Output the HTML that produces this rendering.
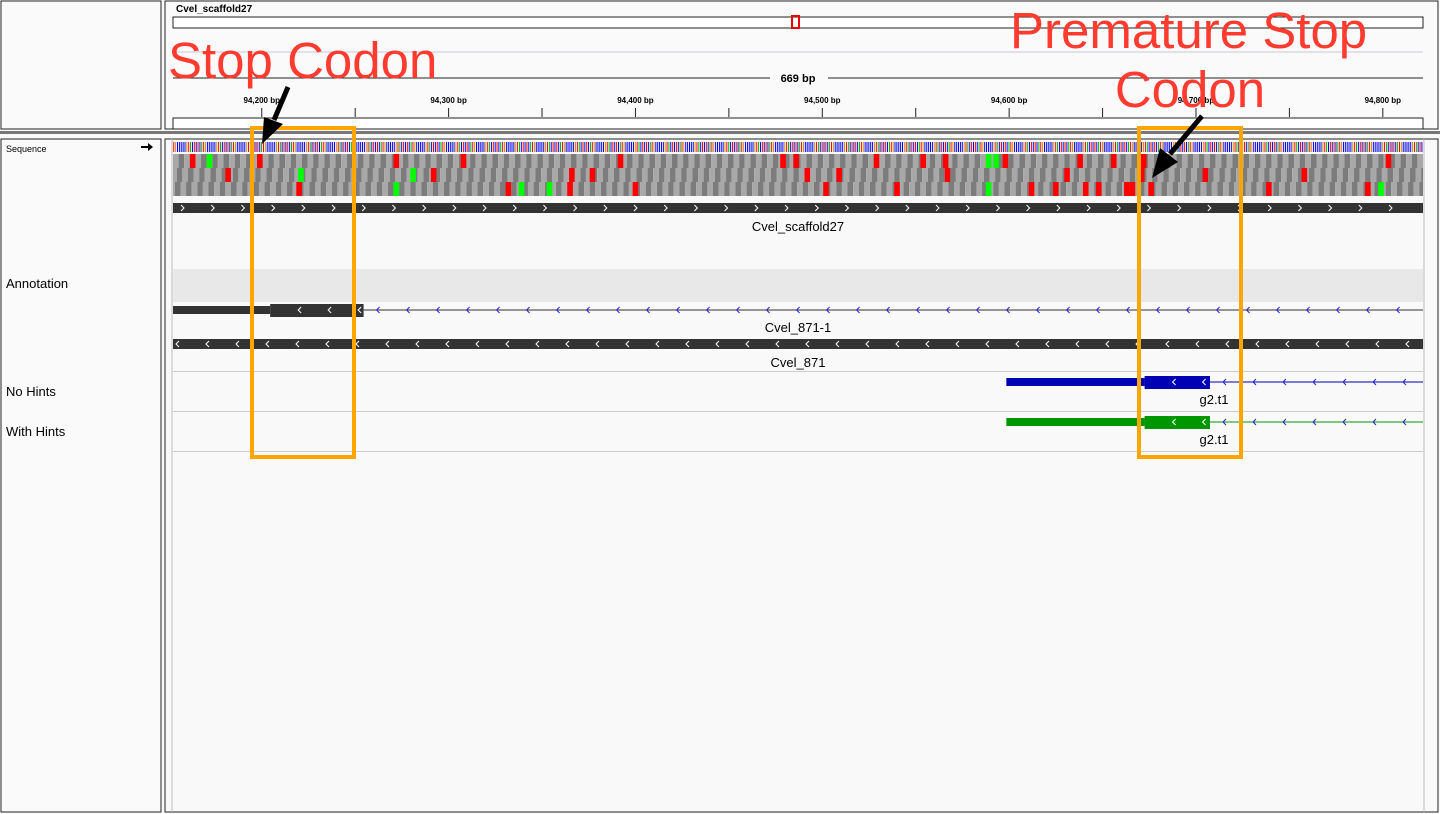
<!DOCTYPE html>
<html><head><meta charset="utf-8"><style>
html,body{margin:0;padding:0;background:#fff;width:1440px;height:814px;overflow:hidden}
svg{display:block;font-family:"Liberation Sans",sans-serif}
</style></head><body>
<svg id="c" width="1440" height="814" xmlns="http://www.w3.org/2000/svg">
<defs><clipPath id="dp"><rect x="173" y="139" width="1250" height="673"/></clipPath></defs>
<rect x="0" y="0" width="1440" height="814" fill="#f9f9f9"/>
<rect x="1" y="1" width="160" height="128" fill="#fafafa" stroke="#222"/>
<rect x="165" y="1" width="1273" height="128" fill="#fafafa" stroke="#222"/>
<rect x="0" y="131" width="1440" height="3" fill="#777"/>
<rect x="1" y="139" width="160" height="673" fill="#fafafa" stroke="#222"/>
<rect x="165" y="139" width="1273" height="673" fill="#f9f9f9" stroke="#222"/>
<line x1="172" y1="139" x2="172" y2="812" stroke="#bbb"/>
<line x1="1424" y1="139" x2="1424" y2="812" stroke="#bbb"/>
<text x="176" y="12" font-size="10" font-weight="bold">Cvel_scaffold27</text>
<rect x="173" y="17" width="1250" height="11" fill="#fff" stroke="#222"/>
<rect x="792" y="16" width="7" height="12" fill="none" stroke="#e00" stroke-width="2"/>
<line x1="173" y1="52" x2="1423" y2="52" stroke="#c8c8d8"/>
<line x1="173" y1="78" x2="770" y2="78" stroke="#222"/>
<line x1="828" y1="78" x2="1423" y2="78" stroke="#222"/>
<text x="798" y="82" font-size="11" font-weight="bold" text-anchor="middle">669 bp</text>
<g id="ruler"></g>
<rect x="173" y="118" width="1250" height="11" fill="#fff" stroke="#222"/>
<text x="6" y="152" font-size="9">Sequence</text>
<path d="M141 146h7v-3l5 4-5 4v-3h-7z" fill="#000"/>
<text x="6" y="288" font-size="13">Annotation</text>
<text x="6" y="396" font-size="13">No Hints</text>
<text x="6" y="436" font-size="13">With Hints</text>
<g id="seq" clip-path="url(#dp)"></g>
<g id="feat" clip-path="url(#dp)"></g>
<rect x="252" y="128" width="102" height="329" fill="none" stroke="#ffa500" stroke-width="4"/>
<rect x="1139" y="128" width="102" height="329" fill="none" stroke="#ffa500" stroke-width="4"/>
<text x="168" y="78" font-size="51" fill="#ff3b30">Stop Codon</text>
<text x="1010" y="48" font-size="51" fill="#ff3b30">Premature Stop</text>
<text x="1190" y="107" font-size="51" fill="#ff3b30" text-anchor="middle">Codon</text>
<line x1="288" y1="87" x2="274" y2="120" stroke="#000" stroke-width="5"/>
<polygon points="262,144 264,117 283,124" fill="#000"/>
<line x1="1202" y1="116" x2="1170" y2="154" stroke="#000" stroke-width="5"/>
<polygon points="1152,178 1160,148 1178,162" fill="#000"/>
</svg>
<script>
const startBp = 94152.5, endBp = 94821.5;
const tickLabels = ["94,200 bp","94,300 bp","94,400 bp","94,500 bp","94,600 bp","94,700 bp","94,800 bp"];
const tickValues = [94200,94300,94400,94500,94600,94700,94800];
const frame1Stops = [9,45,118,154,238,325,332,375,400,412,444,484,502,518,649];
const frame1Starts = [18,435,439];
const frame2Stops = [28,138,212,223,338,355,413,477,517,551,604];
const frame2Starts = [67,127];
const frame3Stops = [66,178,211,246,348,386,458,471,487,494,509,512,522,585,638];
const frame3Starts = [118,185,200,435,645];
const geneStart = 0, geneEnd = 669;
const cvel871_1 = {start:0, cdsStart:52, cdsEnd:102, end:669};
const g2NoHints = {start:446, cdsStart:520, cdsEnd:555, end:669};
const g2WithHints = {start:446, cdsStart:520, cdsEnd:555, end:669};
const X0=173, W=1250;
const x = off => X0 + off * W/(endBp-startBp);
const xg = bp => x(bp-startBp);
const NS="http://www.w3.org/2000/svg";
function mk(p,tag,a){const e=document.createElementNS(NS,tag);for(const k in a)e.setAttribute(k,a[k]);p.appendChild(e);return e;}
const ruler=document.getElementById('ruler');
tickValues.forEach((v,i)=>{const xx=xg(v);
 const t=mk(ruler,'text',{x:xx,y:103,'font-size':8,'font-weight':'bold','text-anchor':'middle'});t.textContent=tickLabels[i];
 
 
 mk(ruler,'line',{x1:xx,y1:108,x2:xx,y2:117,stroke:'#222'});
 const h=xg(v+50); if(h<1423) mk(ruler,'line',{x1:h,y1:108,x2:h,y2:117,stroke:'#222'});
});
const seq=document.getElementById('seq');
const cols=['#e00','#0a0','#00d','#d80'];
const bw=W/669;
for(let i=0;i<669;i++){const c=cols[(i*7+((i*i)>>3))%4];mk(seq,'rect',{x:x(i)+0.3,y:142,width:Math.max(bw-0.9,0.8),height:10,fill:c});}
const frames=[[frame1Stops,frame1Starts,154],[frame2Stops,frame2Starts,168],[frame3Stops,frame3Starts,182]];
frames.forEach(([st,sa,y],f)=>{
 for(let i=-f;i<669;i+=3){const a=Math.max(i,0);const b=Math.min(i+3,669);mk(seq,'rect',{x:x(a),y:y,width:x(b)-x(a),height:14,fill:((i+f)/3)%2?'#7c7c7c':'#a8a8a8'});}
 st.forEach(o=>{const r=mk(seq,'rect',{x:x(o),y:y,width:3*bw,height:14,fill:'#f00'});});
 sa.forEach(o=>{const r=mk(seq,'rect',{x:x(o),y:y,width:3*bw,height:14,fill:'#0f0'});});
});
const feat=document.getElementById('feat');
function chev(y,x1,x2,dir,color,step){for(let xx=x1+10;xx<x2-4;xx+=step){mk(feat,'path',{d:dir>0?`M${xx-2} ${y-3}l3 3l-3 3`:`M${xx+1} ${y-3}l-3 3l3 3`,stroke:color,fill:'none','stroke-width':1});}}
mk(feat,'rect',{x:X0,y:203,width:W,height:10,fill:'#333'});chev(208,X0,X0+W,1,'#fff',30.2);
mk(feat,'text',{x:798,y:231,'font-size':13,'text-anchor':'middle'}).textContent='Cvel_scaffold27';
mk(feat,'rect',{x:X0,y:269,width:W,height:33,fill:'#e8e8e8'});
function gene(g,y,color,label,name){
 const g0=mk(feat,'g',{});
 mk(g0,'line',{x1:x(g.cdsEnd),y1:y,x2:x(g.end),y2:y,stroke:color,'stroke-width':1});
 mk(g0,'rect',{x:x(g.start),y:y-4,width:x(g.cdsStart)-x(g.start),height:8,fill:color});
 mk(g0,'rect',{x:x(g.cdsStart),y:y-6,width:x(g.cdsEnd)-x(g.cdsStart),height:13,fill:color});
 for(let xx=x(g.cdsStart)+30;xx<x(g.cdsEnd)-3;xx+=30)mk(g0,'path',{d:`M${xx+1} ${y-3}l-3 3l3 3`,stroke:'#fff',fill:'none'});
 for(let xx=x(g.cdsEnd)+15;xx<x(g.end)-5;xx+=30)mk(g0,'path',{d:`M${xx+1} ${y-3}l-3 3l3 3`,stroke:'#22d',fill:'none'});
 mk(g0,'text',{x:label[1],y:y+22,'font-size':13,'text-anchor':'middle'}).textContent=label[0];
}
gene(cvel871_1,310,'#333',['Cvel_871-1',798],'gene-cvel-871-1');
const gb=mk(feat,'g',{});
mk(gb,'rect',{x:x(geneStart),y:339,width:x(geneEnd)-x(geneStart),height:10,fill:'#333'});
for(let xx=X0+5;xx<X0+W-3;xx+=30)mk(gb,'path',{d:`M${xx+1} 341l-3 3l3 3`,stroke:'#fff',fill:'none'});
mk(gb,'text',{x:798,y:367,'font-size':13,'text-anchor':'middle'}).textContent='Cvel_871';
[371,411,451].forEach(y=>mk(feat,'line',{x1:X0,y1:y+0.5,x2:X0+W,y2:y+0.5,stroke:'#ccc'}));
gene(g2NoHints,382,'#0000b4',['g2.t1',1214],'gene-g2-no-hints');
gene(g2WithHints,422,'#009600',['g2.t1',1214],'gene-g2-with-hints');
</script>
</body></html>
